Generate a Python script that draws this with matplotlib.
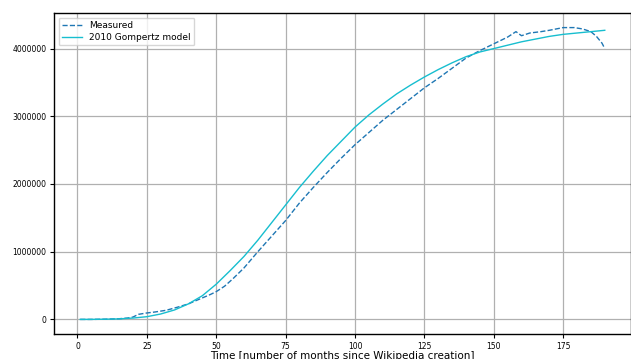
import matplotlib.pyplot as plt
import numpy as np

# Measured article count
meas_t = [1, 5, 10, 15, 18, 20, 22, 25, 28, 32, 36, 40, 44, 48, 50, 53, 56, 60,
          65, 70, 75, 80, 85, 90, 95, 100, 105, 110, 115, 120, 125, 130, 135,
          140, 145, 150, 155, 158, 160, 163, 167, 170, 175, 179, 182, 185, 187,
          189, 190]
meas_n = [0.0, 0.0, 0.003, 0.01, 0.02, 0.035, 0.075, 0.095, 0.11, 0.135, 0.18,
          0.23, 0.30, 0.37, 0.41, 0.49, 0.60, 0.76, 1.00, 1.23, 1.46, 1.72,
          1.95, 2.17, 2.38, 2.58, 2.76, 2.94, 3.10, 3.26, 3.42, 3.56, 3.71,
          3.86, 3.97, 4.07, 4.17, 4.25, 4.19, 4.23, 4.25, 4.27, 4.31, 4.31,
          4.29, 4.25, 4.18, 4.08, 4.00]

# 2010 Gompertz model curve
model_t = [1, 5, 10, 15, 20, 25, 30, 35, 40, 45, 50, 55, 60, 65, 70, 75, 80,
           85, 90, 95, 100, 105, 110, 115, 120, 125, 130, 135, 140, 145, 150,
           155, 160, 165, 170, 175, 180, 185, 190]
model_n = [0.0, 0.0005, 0.003, 0.008, 0.02, 0.04, 0.08, 0.14, 0.23, 0.35, 0.52,
           0.72, 0.93, 1.17, 1.43, 1.69, 1.95, 2.19, 2.42, 2.63, 2.84, 3.02,
           3.18, 3.33, 3.46, 3.58, 3.69, 3.79, 3.88, 3.95, 4.00, 4.05, 4.10,
           4.14, 4.18, 4.21, 4.23, 4.25, 4.27]

fig = plt.figure(figsize=(6.31, 3.59), dpi=100)
ax = fig.add_axes([54 / 631, 25 / 359, 577 / 631, 321 / 359])

ax.plot(meas_t, np.array(meas_n) * 1e6, '--', color='#1f77b4', lw=1.0,
        label='Measured')
ax.plot(model_t, np.array(model_n) * 1e6, '-', color='#17becf', lw=1.0,
        label='2010 Gompertz model')

ax.grid(True, color='#b0b0b0', lw=0.9)
ax.set_axisbelow(True)
ax.ticklabel_format(axis='y', style='plain')
ax.set_xticks([0, 25, 50, 75, 100, 125, 150, 175])
ax.set_yticks([0, 1000000, 2000000, 3000000, 4000000])
ax.tick_params(labelsize=5.5, length=3, width=0.8, pad=2.5)
for s in ax.spines.values():
    s.set_linewidth(1.0)

ax.set_xlabel('Time [number of months since Wikipedia creation]',
              fontsize=7.5, labelpad=0.5)
ax.legend(loc='upper left', fontsize=6.5, handlelength=2.2,
          borderpad=0.4, labelspacing=0.3)

fig.savefig('out.png', dpi=100)
